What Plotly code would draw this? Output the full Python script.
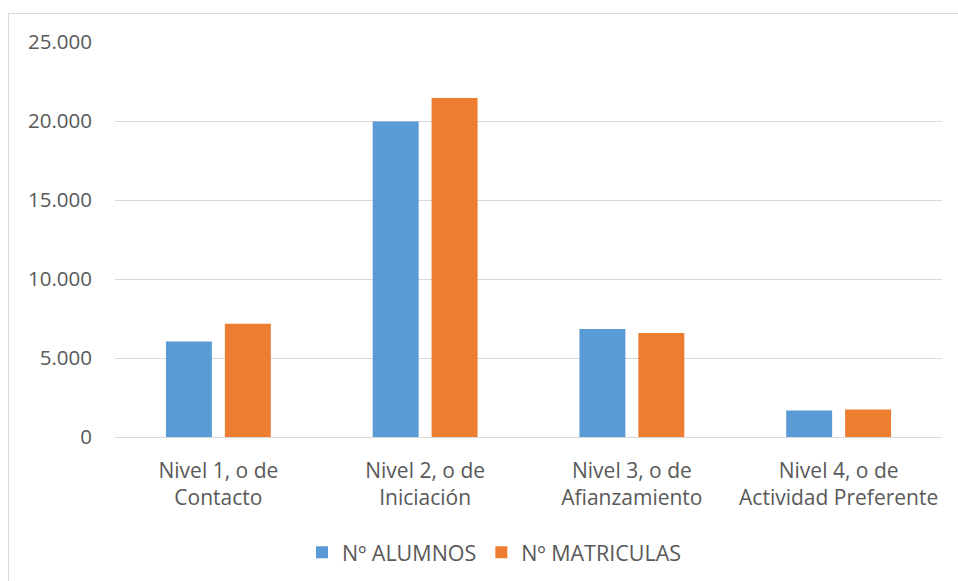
import plotly.graph_objects as go

categories = ["Nivel 1, o de<br>Contacto", "Nivel 2, o de<br>Iniciación",
              "Nivel 3, o de<br>Afianzamiento", "Nivel 4, o de<br>Actividad Preferente"]
alumnos = [6040, 19970, 6840, 1680]
matriculas = [7170, 21460, 6590, 1740]
y_ticks = [0, 5000, 10000, 15000, 20000, 25000]
y_tick_labels = ["0", "5.000", "10.000", "15.000", "20.000", "25.000"]

W, H = 958, 581
ML, MR, MT, MB = 115, 16, 42, 143.5
pw = W - ML - MR
ph = H - MT - MB

def px_x(p):
    return (p - ML) / pw

def px_y(p):
    return 1 - (p - MT) / ph

text_color = "#595959"
font_family = "Open Sans, Noto Sans, sans-serif"

fig = go.Figure()
fig.add_trace(go.Bar(x=categories, y=alumnos, name="Nº ALUMNOS",
                     marker=dict(color="#5B9BD5", line=dict(width=0))))
fig.add_trace(go.Bar(x=categories, y=matriculas, name="Nº MATRICULAS",
                     marker=dict(color="#ED7D31", line=dict(width=0))))

fig.update_layout(
    width=W, height=H,
    margin=dict(l=ML, r=MR, t=MT, b=MB, autoexpand=False),
    paper_bgcolor="white", plot_bgcolor="white",
    barmode="group", bargap=0.43, bargroupgap=0.22,
    font=dict(family=font_family, size=21, color=text_color),
    legend=dict(orientation="h", x=px_x(494.5), xanchor="center",
                y=px_y(553), yanchor="middle", font=dict(size=21.5),
                itemwidth=30, traceorder="normal"),
    xaxis=dict(showgrid=False, showline=False, ticks="",
               ticklabelstandoff=19, tickfont=dict(size=21)),
    yaxis=dict(range=[0, 25000], tickvals=y_ticks, ticktext=y_tick_labels,
               showgrid=True, gridcolor="#D9D9D9", gridwidth=1,
               zeroline=True, zerolinecolor="#D9D9D9", zerolinewidth=1,
               showline=False, ticks="", ticklabelstandoff=22,
               tickfont=dict(size=20.5)),
    shapes=[dict(type="rect", xref="paper", yref="paper",
                 x0=px_x(8.5), x1=px_x(1000), y0=px_y(640), y1=px_y(13.5),
                 line=dict(color="#D9D9D9", width=1), fillcolor="rgba(0,0,0,0)",
                 layer="below")],
)

fig.write_html("out.html")
